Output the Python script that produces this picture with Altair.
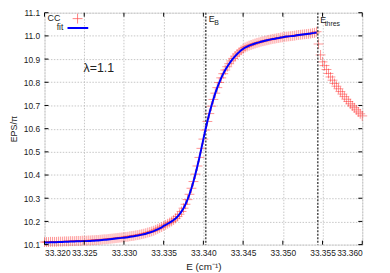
import altair as alt
import pandas as pd

# ---- data ----
x_start = 33.320
x_step = 0.00025
cc_values = [
    10.111, 10.111, 10.111, 10.112, 10.112, 10.112, 10.112, 10.113, 10.113, 10.113,
    10.114, 10.114, 10.114, 10.115, 10.115, 10.115, 10.116, 10.116, 10.116, 10.117,
    10.117, 10.117, 10.118, 10.118, 10.119, 10.119, 10.120, 10.120, 10.121, 10.122,
    10.123, 10.123, 10.124, 10.125, 10.126, 10.127, 10.128, 10.129, 10.130, 10.131,
    10.132, 10.133, 10.134, 10.136, 10.137, 10.138, 10.140, 10.141, 10.143, 10.145,
    10.147, 10.149, 10.152, 10.154, 10.157, 10.160, 10.164, 10.168, 10.172, 10.176,
    10.181, 10.185, 10.190, 10.195, 10.200, 10.206, 10.213, 10.221, 10.231, 10.243,
    10.257, 10.274, 10.294, 10.317, 10.343, 10.372, 10.404, 10.439, 10.476, 10.515,
    10.555, 10.594, 10.631, 10.665, 10.697, 10.726, 10.753, 10.777, 10.799, 10.819,
    10.837, 10.853, 10.867, 10.880, 10.892, 10.903, 10.913, 10.922, 10.930, 10.938,
    10.944, 10.950, 10.954, 10.958, 10.961, 10.964, 10.967, 10.970, 10.972, 10.975,
    10.977, 10.979, 10.981, 10.983, 10.985, 10.987, 10.988, 10.990, 10.991, 10.993,
    10.994, 10.996, 10.997, 10.998, 10.999, 11.000, 11.001, 11.003, 11.004, 11.005,
    11.006, 11.007, 11.008, 11.009, 11.010, 11.012, 11.013, 11.018,
    # above threshold
    10.965, 10.918, 10.888, 10.872, 10.855, 10.838, 10.823, 10.809, 10.795, 10.783,
    10.772, 10.760, 10.749, 10.738, 10.727, 10.717, 10.707, 10.698, 10.690, 10.681,
    10.672, 10.664, 10.655,
]
cc_x = [round(x_start + i * x_step, 5) for i in range(len(cc_values))]

fit_count = 138  # fit drawn up to the threshold
fit_x = cc_x[:fit_count]
fit_values = [v - 0.002 if i < 60 else v for i, v in enumerate(cc_values[:fit_count])]
fit_values[-1] = 11.015

E_B = 33.3403
E_thres = 33.3544

x_ticks = [33.320, 33.325, 33.330, 33.335, 33.340, 33.345, 33.350, 33.355, 33.360]
y_ticks = [10.1, 10.2, 10.3, 10.4, 10.5, 10.6, 10.7, 10.8, 10.9, 11.0, 11.1]

W, H = 322, 235
FONT = "Liberation Sans"
CROSS = "M-1,0H1M0,-1V1"

xs = alt.Scale(domain=[33.320, 33.360], nice=False)
ys = alt.Scale(domain=[10.1, 11.1], nice=False, zero=False)

x_axis = alt.Axis(
    values=x_ticks, format=".3f", title="E (cm⁻¹)", grid=True,
    gridColor="#b8b8b8", gridDash=[1.5, 1.5], gridWidth=0.8,
    tickSize=0, domain=False, labelFont=FONT, labelFontSize=8.5,
    labelColor="#222", labelPadding=4, titleFont=FONT, titleFontSize=10,
    titleFontWeight="normal", titleColor="#222", titlePadding=5)
y_axis = alt.Axis(
    values=y_ticks, format=".1f", title="EPS/π", grid=True,
    gridColor="#b8b8b8", gridDash=[1.5, 1.5], gridWidth=0.8,
    tickSize=0, domain=False, labelFont=FONT, labelFontSize=8.5,
    labelColor="#222", labelPadding=5, titleFont=FONT, titleFontSize=9,
    titleFontWeight="normal", titleColor="#222", titleX=-28,
    titleBaseline="alphabetic")


def X(field):
    return alt.X(field, scale=xs, axis=x_axis)


def Y(field):
    return alt.Y(field, scale=ys, axis=y_axis)


cc_df = pd.DataFrame({"E": cc_x, "EPS": cc_values})
fit_df = pd.DataFrame({"E": fit_x, "EPS": fit_values})

points = alt.Chart(cc_df).mark_point(
    shape=CROSS, filled=False, stroke="#ff0000", strokeOpacity=0.6,
    strokeWidth=1, size=100
).encode(x=X("E:Q"), y=Y("EPS:Q"))

fit = alt.Chart(fit_df).mark_line(color="#0000ff", strokeWidth=2).encode(
    x=X("E:Q"), y=Y("EPS:Q"))

vlines = alt.Chart(pd.DataFrame({"E": [E_B, E_thres]})).mark_rule(
    color="#555", strokeWidth=1.6, strokeDash=[2, 1.5]
).encode(x=X("E:Q"))

xt = pd.DataFrame({"E": x_ticks})
yt = pd.DataFrame({"EPS": y_ticks})
tick_layers = [
    alt.Chart(xt).mark_rule(color="black").encode(
        x=X("E:Q"), y=alt.value(H), y2=alt.value(H - 4)),
    alt.Chart(xt).mark_rule(color="black").encode(
        x=X("E:Q"), y=alt.value(0), y2=alt.value(4)),
    alt.Chart(yt).mark_rule(color="black").encode(
        y=Y("EPS:Q"), x=alt.value(0), x2=alt.value(4)),
    alt.Chart(yt).mark_rule(color="black").encode(
        y=Y("EPS:Q"), x=alt.value(W), x2=alt.value(W - 4)),
]


def label(text, x, y, size, align="left"):
    return alt.Chart(pd.DataFrame({"t": [text]})).mark_text(
        font=FONT, fontSize=size, align=align, baseline="alphabetic", color="#222"
    ).encode(x=alt.value(x), y=alt.value(y), text="t:N")


def elabel(text, e, dx, y, size):
    return alt.Chart(pd.DataFrame({"E": [e], "t": [text]})).mark_text(
        font=FONT, fontSize=size, align="left", baseline="alphabetic", dx=dx,
        color="#222"
    ).encode(x=X("E:Q"), y=alt.value(y), text="t:N")


annotations = [
    label("λ=1.1", 55, 60, 12.5, "center"),
    label("CC", 16, 8.5, 9, "right"),
    label("fit", 19, 18, 8.5, "right"),
    elabel("E", E_B, 3, 9.7, 9),
    elabel("B", E_B, 8.5, 12.3, 7),
    elabel("E", E_thres, 2.5, 10.5, 9),
    elabel("thres", E_thres, 7, 13.3, 7),
]

legend_cross = alt.Chart(pd.DataFrame({"k": ["CC"]})).mark_point(
    shape=CROSS, filled=False, stroke="#ff0000", strokeOpacity=0.7,
    strokeWidth=1, size=100
).encode(x=alt.value(33.5), y=alt.value(6))

legend_line = alt.Chart(pd.DataFrame({"k": ["fit"]})).mark_rule(
    color="#0000ff", strokeWidth=2
).encode(x=alt.value(23.3), x2=alt.value(44.3), y=alt.value(15.5))

chart = alt.layer(
    points, vlines, fit, *tick_layers, *annotations, legend_cross, legend_line
).properties(
    width=W, height=H,
    autosize=alt.AutoSizeParams(type="none"),
    padding={"left": 37, "top": 3, "right": 20, "bottom": 27},
).configure_view(stroke="black", strokeWidth=1).configure(background="white")

chart.save("out.html", embed_options={"renderer": "svg", "actions": False})
